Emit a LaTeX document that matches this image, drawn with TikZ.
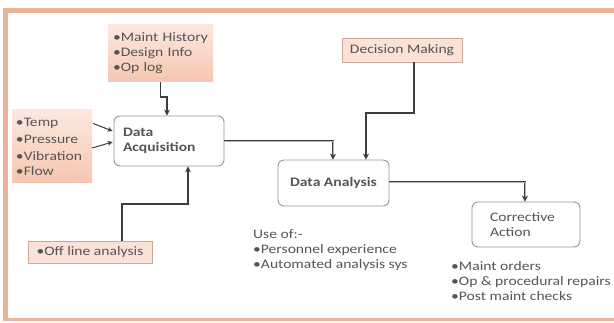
\documentclass[tikz,border=0pt]{standalone}
\usepackage{fontspec}
\setmainfont{Carlito}[FakeStretch=1.2]
\usetikzlibrary{arrows.meta,calc}
\definecolor{framecol}{RGB}{234,180,155}
\definecolor{salmonlt}{RGB}{252,232,224}
\definecolor{salmondk}{RGB}{246,198,176}
\definecolor{txtcol}{RGB}{85,85,85}
\definecolor{linecol}{RGB}{60,60,60}
\definecolor{boxline}{RGB}{150,150,150}
\tikzset{
  salmonbox/.style={top color=salmonlt, bottom color=salmondk, draw=none, inner sep=0pt},
  labelbox/.style={fill=salmonlt!80!salmondk, draw=salmondk!60!gray, line width=0.4pt, inner sep=0pt},
  roundbox/.style={draw=boxline, line width=0.9pt, rounded corners=6pt, fill=white, inner sep=0pt},
  conn/.style={draw=linecol, line width=1.6pt, -{Stealth[length=6pt,width=6pt]}},
  dblconn/.style={draw=linecol, double=gray!60, double distance=0.8pt, line width=0.8pt, -{Stealth[length=6pt,width=6pt]}},
  thinarr/.style={draw=linecol, line width=1pt, -{Stealth[length=5pt,width=5pt]}},
  every node/.style={text=txtcol, font=\fontsize{13}{15}\selectfont}
}
\begin{document}
\begin{tikzpicture}[x=1pt,y=-1pt]
\useasboundingbox (0,0) rectangle (614,323);
% frame
\fill[framecol] (3,8) rectangle (614,13);
\fill[framecol] (3,8) rectangle (8,321);
\fill[framecol] (3,318) rectangle (614,321);

% boxes
\node[salmonbox, minimum width=105pt, minimum height=57pt, align=left, text width=95pt] (hist) at (160.5,53.5)
  {\fontsize{13}{15}\selectfont •Maint History\\•Design Info\\•Op log};
\node[salmonbox, minimum width=80pt, minimum height=73pt, align=left, text width=72pt] (sens) at (52,146.5)
  {\fontsize{13}{17}\selectfont •Temp\\•Pressure\\•Vibration\\•Flow};
\node[roundbox, minimum width=110pt, minimum height=50pt, align=left, text width=92pt] (acq) at (169,141)
  {\bfseries Data\\Acquisition};
\node[labelbox, minimum width=120pt, minimum height=24pt] (dec) at (402,50) {Decision Making};
\node[labelbox, minimum width=124pt, minimum height=22pt] (off) at (90,252) {•Off line analysis};
\node[roundbox, minimum width=111pt, minimum height=46pt] (ana) at (333.5,183) {\bfseries Data Analysis};
\node[roundbox, minimum width=108pt, minimum height=45pt, align=left, text width=72pt] (cor) at (526,224.5)
  {Corrective\\Action};

% free texts
\node[anchor=north west, align=left, inner sep=0pt] (use) at (253,229)
  {\fontsize{13}{16}\selectfont Use of:-\\•Personnel experience\\•Automated analysis sys};
\node[anchor=north west, align=left, inner sep=0pt] (acts) at (451,261)
  {\fontsize{13}{15.5}\selectfont •Maint orders\\•Op \& procedural repairs\\•Post maint checks};

% connectors
\coordinate (j1) at (167,97);
\draw[conn] (hist.south) |- (j1) -- (j1 |- acq.north);

\draw[thinarr] ($(sens.east)+(1,-23)$) -- ($(acq.west)+(-1,-10)$);
\draw[thinarr] ($(sens.east)+(0,1.5)$) -- ($(acq.west)+(-1,1)$);

\coordinate (o1) at (122,204);
\coordinate (o2) at (188,204);
\draw[conn] (o1 |- off.north) -- (o1) -- (o2) -- (o2 |- acq.south);

\coordinate (a1) at (333,141);
\draw[dblconn] (acq.east) -- (a1) -- (a1 |- ana.north);

\coordinate (d1) at (414,113);
\coordinate (d2) at (366,113);
\draw[conn] (d1 |- dec.south) -- (d1) -- (d2) -- (d2 |- ana.north);

\coordinate (c1) at (525,182);
\draw[dblconn] (ana.east |- c1) -- (c1) -- (c1 |- cor.north);
\end{tikzpicture}
\end{document}
